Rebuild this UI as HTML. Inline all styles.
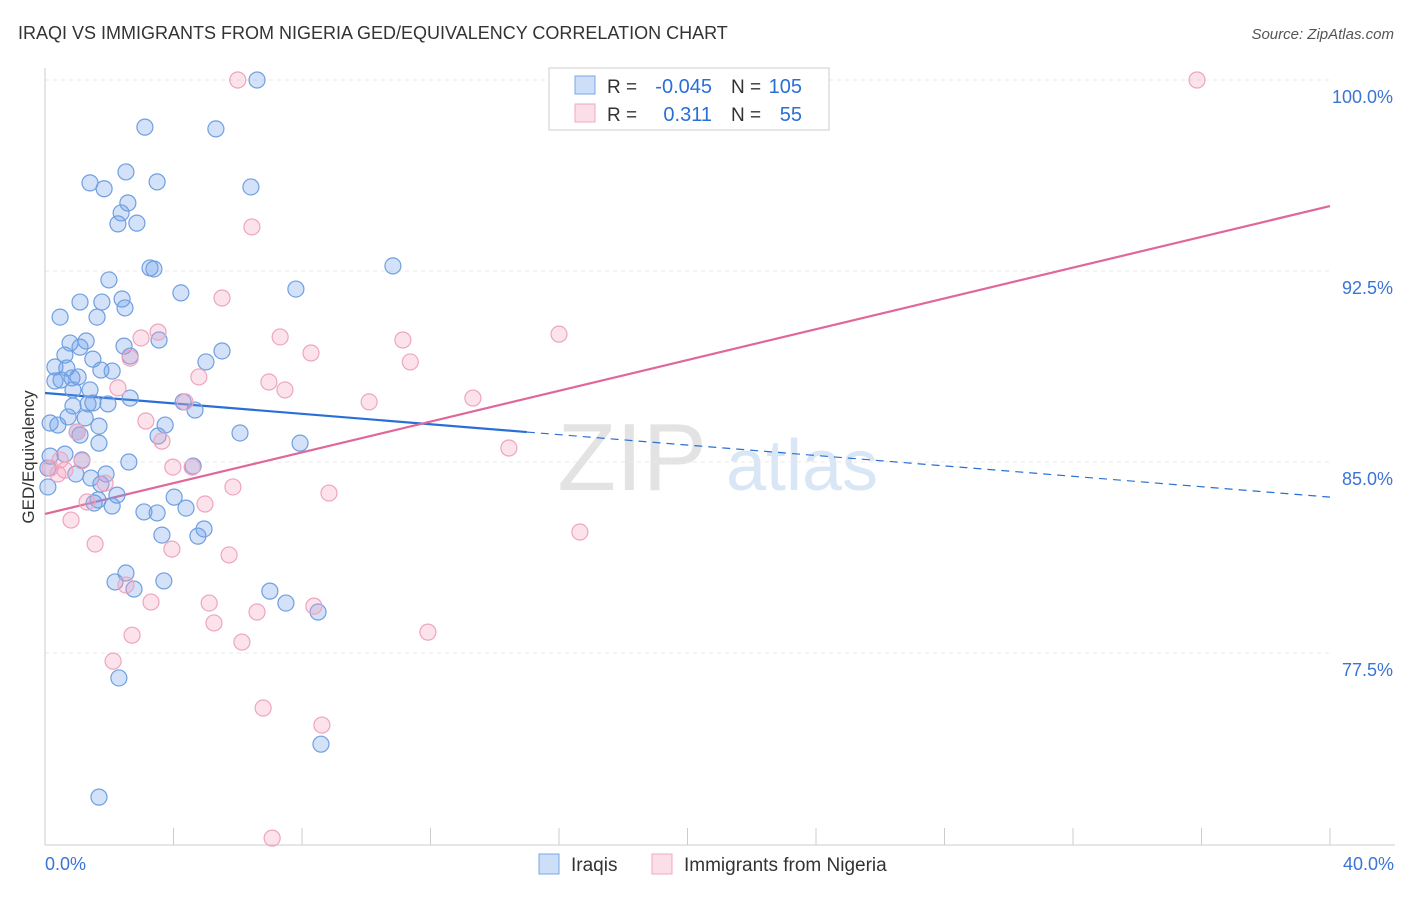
<!DOCTYPE html>
<html><head><meta charset="utf-8"><style>
body{margin:0;background:#fff;font-family:"Liberation Sans",sans-serif;}
svg text{font-family:"Liberation Sans",sans-serif;}
</style></head><body>
<svg id="chart" width="1406" height="892" viewBox="0 0 1406 892" xmlns="http://www.w3.org/2000/svg">
<text x="18" y="39" font-size="18" fill="#333">IRAQI VS IMMIGRANTS FROM NIGERIA GED/EQUIVALENCY CORRELATION CHART</text>
<text x="1394" y="39" font-size="15" fill="#555" font-style="italic" text-anchor="end">Source: ZipAtlas.com</text>
<text transform="translate(34,457) rotate(-90)" font-size="17" fill="#333" text-anchor="middle">GED/Equivalency</text>
<g>
<text x="632" y="490" font-size="96" fill="#ddd" font-family="Liberation Serif" text-anchor="middle" opacity="0.8">ZIP</text>
<text x="802" y="490" font-size="72" fill="#cfe0f4" text-anchor="middle" opacity="0.8">atlas</text>
</g>
<g id="grid"></g><g id="axes"></g><g id="lines"></g><g id="pts"></g>
<g>
<rect x="549" y="68" width="280" height="62" fill="#fff" stroke="#ccc"/>
<rect x="575" y="76" width="20" height="18" fill="rgba(110,160,235,0.35)" stroke="#7aa7e6"/>
<rect x="575" y="104" width="20" height="18" fill="rgba(245,160,190,0.35)" stroke="#f0a8c0"/>
<text x="607" y="93" font-size="19" fill="#333">R =</text>
<text x="712" y="93" font-size="20" fill="#2a6fd6" text-anchor="end">-0.045</text>
<text x="731" y="93" font-size="19" fill="#333">N =</text>
<text x="802" y="93" font-size="20" fill="#2a6fd6" text-anchor="end">105</text>
<text x="607" y="121" font-size="19" fill="#333">R =</text>
<text x="712" y="121" font-size="20" fill="#2a6fd6" text-anchor="end">0.311</text>
<text x="731" y="121" font-size="19" fill="#333">N =</text>
<text x="802" y="121" font-size="20" fill="#2a6fd6" text-anchor="end">55</text>
</g>
<g>
<rect x="539" y="854" width="20" height="20" fill="rgba(110,160,235,0.35)" stroke="#7aa7e6"/>
<text x="571" y="871" font-size="19" fill="#333">Iraqis</text>
<rect x="652" y="854" width="20" height="20" fill="rgba(245,160,190,0.35)" stroke="#f0a8c0"/>
<text x="684" y="871" font-size="19" fill="#333">Immigrants from Nigeria</text>
</g>
</svg>
<script>
const yTicks=[100,92.5,85,77.5];
const yTickLabels=["100.0%","92.5%","85.0%","77.5%"];
const xTicks=[0,4,8,12,16,20,24,28,32,36,40];
const xTickLabels=["0.0%","40.0%"];
const iraqiX=[6.6,3.11,5.32,2.52,1.40,3.49,1.84,6.41,2.58,2.37,2.27,2.86,3.27,3.39,10.83,1.99,4.23,7.81,1.09,1.77,2.40,2.49,0.47,1.62,0.78,1.28,1.09,2.46,3.55,2.65,5.51,5.01,0.62,1.49,0.31,0.68,1.74,2.09,0.31,0.50,0.84,1.03,1.40,0.87,2.65,1.34,1.49,1.96,0.87,4.30,4.67,0.72,1.25,0.16,0.40,1.68,3.74,1.00,1.09,3.52,6.07,7.94,1.68,0.16,0.62,1.15,2.61,4.61,0.09,0.96,1.90,1.43,1.74,0.09,2.24,4.02,1.65,1.53,2.09,3.08,3.49,4.39,4.95,3.64,4.76,2.52,2.18,3.70,2.77,7.00,7.50,8.50,2.30,8.59,1.68];
const iraqiY=[100,98.15,98.08,96.39,95.96,96.0,95.73,95.8,95.17,94.78,94.35,94.38,92.62,92.58,92.7,92.15,91.64,91.79,91.28,91.28,91.4,91.05,90.69,90.69,89.67,89.75,89.51,89.55,89.79,89.16,89.36,88.93,89.2,89.04,88.73,88.69,88.61,88.57,88.18,88.22,88.3,88.34,87.83,87.83,87.51,87.28,87.32,87.28,87.2,87.36,87.04,86.77,86.73,86.53,86.45,86.41,86.45,86.18,86.06,86.02,86.14,85.74,85.74,85.23,85.31,85.08,85.0,84.84,84.76,84.53,84.53,84.37,84.13,84.02,83.7,83.62,83.51,83.39,83.27,83.04,83.0,83.19,82.37,82.13,82.09,80.64,80.29,80.33,80.01,79.93,79.46,79.11,76.52,73.92,71.84];
const nigX=[6.0,35.86,6.44,5.51,3.52,2.99,7.32,11.14,16.0,8.28,11.37,2.65,4.79,6.97,7.47,2.27,4.36,10.09,13.32,3.14,1.00,3.64,14.44,0.47,1.15,0.16,0.62,0.40,3.98,4.58,1.87,5.85,8.84,1.31,4.98,0.81,16.65,1.56,3.95,5.73,2.52,3.30,5.11,6.60,8.37,5.26,11.92,2.71,6.13,2.12,6.79,8.62,7.07];
const nigY=[100,100,94.23,91.44,90.10,89.87,89.91,89.79,90.02,89.28,88.93,89.08,88.34,88.14,87.83,87.91,87.36,87.36,87.51,86.61,86.18,85.82,85.55,85.08,85.04,84.76,84.68,84.53,84.8,84.8,84.17,84.02,83.78,83.43,83.35,82.72,82.25,81.78,81.58,81.35,80.17,79.5,79.46,79.11,79.34,78.68,78.32,78.2,77.93,77.18,75.34,74.67,70.23];
const iraqiTrend=[87.71,83.62];
const nigTrend=[82.96,95.05];
const NS="http://www.w3.org/2000/svg";
const X=v=>45+v/40*1285;
const Y=v=>80+(100-v)/7.5*191;
function mk(t,a,p){const e=document.createElementNS(NS,t);for(const k in a)e.setAttribute(k,a[k]);p.appendChild(e);return e;}
const grid=document.getElementById('grid'),axes=document.getElementById('axes'),lines=document.getElementById('lines'),pts=document.getElementById('pts');
yTicks.forEach((t,i)=>{
 const l=mk('line',{x1:45,x2:1330,y1:Y(t),y2:Y(t),stroke:'#e8e8e8','stroke-dasharray':'4,4'},grid);
 
 
 const tx=mk('text',{x:1393,y:Y(t)+23,'font-size':18,fill:'#3b74d4','text-anchor':'end'},axes);
 tx.textContent=yTickLabels[i];
 
 
});
mk('line',{x1:45,x2:45,y1:68,y2:845,stroke:'#ccc'},axes);
mk('line',{x1:45,x2:1395,y1:845,y2:845,stroke:'#ccc'},axes);
xTicks.forEach(t=>{const l=mk('line',{x1:X(t),x2:X(t),y1:828,y2:845,stroke:'#ccc'},axes);
 
 });
[[0,'start',45],[40,'end',1394]].forEach((d,i)=>{const tx=mk('text',{x:d[2],y:870,'font-size':18,fill:'#3b74d4','text-anchor':d[1]},axes);tx.textContent=xTickLabels[i];
 
 });
function dot(x,y,f,s,name){const c=mk('circle',{cx:X(x),cy:Y(y),r:8,fill:f,stroke:s,'stroke-width':1.2},pts);
 
 }
iraqiX.forEach((x,i)=>dot(x,iraqiY[i],'rgba(110,160,235,0.3)','#6f9fe0','iraqi-point'));
nigX.forEach((x,i)=>dot(x,nigY[i],'rgba(245,160,190,0.3)','#eea5bf','nigeria-point'));
const yb=x=>iraqiTrend[0]+(iraqiTrend[1]-iraqiTrend[0])*x/40;
let l1=mk('line',{x1:X(0),y1:Y(yb(0)),x2:X(15),y2:Y(yb(15)),stroke:'#2a6fd6','stroke-width':2.2},lines);


let l2=mk('line',{x1:X(15),y1:Y(yb(15)),x2:X(40),y2:Y(yb(40)),stroke:'#2a6fd6','stroke-width':1.2,'stroke-dasharray':'8,6'},lines);


let l3=mk('line',{x1:X(0),y1:Y(nigTrend[0]),x2:X(40),y2:Y(nigTrend[1]),stroke:'#e0679a','stroke-width':2.2},lines);


</script>
</body></html>
